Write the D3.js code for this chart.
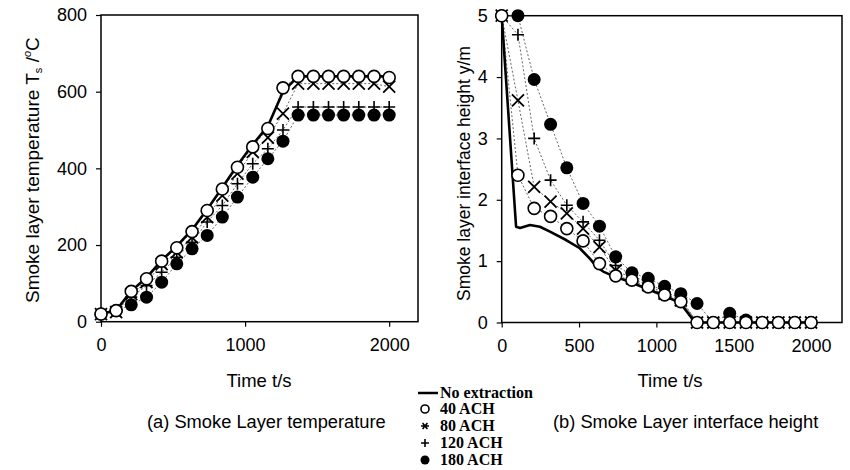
<!DOCTYPE html>
<html><head><meta charset="utf-8">
<script src="https://cdn.jsdelivr.net/npm/d3@7"></script>
<style>
body{margin:0;background:#fff;}
svg{display:block;}
text{font-family:"Liberation Sans",Arial,sans-serif;fill:#000;}
</style></head>
<body>
<svg id="c" width="850" height="470"></svg>
<script>
// ---- data ----
const times = [0,105,210,316,421,526,632,737,842,947,1053,1158,1263,1368,1474,1579,1684,1789,1895,2000];

// (a) smoke layer temperature, °C
const tempNoExt = [20,30,80,115,160,197,240,293,350,408,462,510,600,640,640,640,640,640,640,640];
const temp40  = [20,29,79,112,158,193,235,290,346,403,456,504,610,640,640,640,640,640,640,637];
const temp80  = [20,25,72,103,150,181,220,273,329,386,443,480,543,621,621,621,621,621,621,613];
const temp120 = [20,30,64,94,129,168,207,260,303,360,412,451,500,560,560,560,560,560,560,560];
const temp180 = [20,29,44,64,103,151,190,225,273,325,377,425,471,539,539,539,539,539,539,539];

// (b) smoke layer interface height, m
const noExtT = [0,93,118,183,247,312,419,505,570,613,656,720,830,938,1046,1154,1250,2000];
const noExtH = [5,1.56,1.54,1.59,1.56,1.48,1.34,1.21,1.04,0.91,0.83,0.76,0.66,0.55,0.44,0.32,0,0];
const h40  = [5,2.40,1.86,1.73,1.53,1.33,0.96,0.76,0.69,0.58,0.45,0.34,0,0,0,0,0,0,0,0];
const h80  = [5,3.62,2.21,1.97,1.78,1.53,1.23,0.85,0.72,0.61,0.47,0.36,0,0,0,0,0,0,0,0];
const h120 = [5,4.69,3.00,2.32,1.91,1.64,1.34,0.93,0.77,0.64,0.50,0.39,0,0,0,0,0,0,0,0];
const h180 = [5,5,3.96,3.23,2.52,1.94,1.57,1.07,0.81,0.72,0.59,0.47,0.31,0,0.15,0.04,0,0,0,0];

const tempTicks = [0,200,400,600,800];
const timeTicksA = [0,1000,2000];
const heightTicks = [0,1,2,3,4,5];
const timeTicksB = [0,500,1000,1500,2000];

const legendLabels = ["No extraction","40 ACH","80 ACH","120 ACH","180 ACH"];

// ---- drawing ----
const svg = d3.select("#c");

function marker(g, type, x, y, s) {
  if (type === "circle") {
    g.append("circle").attr("cx",x).attr("cy",y).attr("r",s)
      .attr("fill","#fff").attr("stroke","#000").attr("stroke-width",1.6);
  } else if (type === "dot") {
    g.append("circle").attr("cx",x).attr("cy",y).attr("r",s+0.5).attr("fill","#000");
  } else if (type === "x") {
    const d = s;
    g.append("path").attr("d",`M${x-d},${y-d}L${x+d},${y+d}M${x-d},${y+d}L${x+d},${y-d}`)
      .attr("stroke","#000").attr("stroke-width",1.8).attr("fill","none");
  } else if (type === "plus") {
    const d = s;
    g.append("path").attr("d",`M${x-d},${y}L${x+d},${y}M${x},${y-d}L${x},${y+d}`)
      .attr("stroke","#000").attr("stroke-width",1.6).attr("fill","none");
  } else if (type === "star") {
    const d = s;
    g.append("path").attr("d",`M${x-d},${y}L${x+d},${y}M${x-d*0.6},${y-d*0.75}L${x+d*0.6},${y+d*0.75}M${x-d*0.6},${y+d*0.75}L${x+d*0.6},${y-d*0.75}`)
      .attr("stroke","#000").attr("stroke-width",1.6).attr("fill","none");
  }
}

function panel(cfg) {
  const x = d3.scaleLinear().domain([0,2200]).range([cfg.x0, cfg.x1]);
  const y = d3.scaleLinear().domain([0,cfg.ymax]).range([cfg.y0, cfg.y1]);
  const g = svg.append("g");

  const ax = g.append("g").attr("transform",`translate(0,${cfg.y0})`)
    .call(d3.axisBottom(x).tickValues(cfg.xticks).tickSize(5).tickPadding(12).tickFormat(d3.format("d")));
  const ay = g.append("g").attr("transform",`translate(${cfg.x0},0)`)
    .call(d3.axisLeft(y).tickValues(cfg.yticks).tickSize(5).tickPadding(9).tickFormat(d3.format("d")));
  [ax, ay].forEach(a => {
    a.select(".domain").remove();
    a.selectAll(".tick line").attr("stroke","#000").attr("stroke-width",1.2);
    a.selectAll(".tick text").style("font-size","18px").style("font-family","'Liberation Sans',Arial,sans-serif").attr("fill","#000");
  });

  g.append("rect").attr("x",cfg.x0).attr("y",cfg.y1)
    .attr("width",cfg.x1-cfg.x0).attr("height",cfg.y0-cfg.y1)
    .attr("fill","none").attr("stroke","#000").attr("stroke-width",1.5);

  const line = d3.line().x(d=>x(d[0])).y(d=>y(d[1]));
  cfg.series.forEach(s => {
    g.append("path").attr("d", line(times.map((t,i)=>[t,s.v[i]])))
      .attr("fill","none").attr("stroke","#555").attr("stroke-width",0.9)
      .attr("stroke-dasharray","2,2");
  });
  g.append("path").attr("d", line(cfg.noExt))
    .attr("fill","none").attr("stroke","#000").attr("stroke-width",2.6)
    .attr("stroke-linejoin","round");

  cfg.series.forEach(s => {
    times.forEach((t,i) => marker(g, s.type, x(t), y(s.v[i]), 6));
  });

  g.append("text").attr("x",cfg.xTitleX).attr("y",387).attr("text-anchor","middle")
    .style("font-size","18.5px").text("Time t/s");
  g.append("text").attr("x",cfg.capX).attr("y",428).style("font-size","18.3px").text(cfg.caption);
  return g;
}

const gA = panel({
  x0:101, x1:418, y0:321.7, y1:15, ymax:800,
  xticks:timeTicksA, yticks:tempTicks,
  noExt: times.map((t,i)=>[t,tempNoExt[i]]),
  series:[
    {type:"dot", v:temp180},
    {type:"plus", v:temp120},
    {type:"x", v:temp80},
    {type:"circle", v:temp40}
  ],
  xTitleX:259, capX:147, caption:"(a) Smoke Layer temperature"
});
const tA = gA.append("text").attr("transform","translate(39,303) rotate(-90)")
  .attr("text-anchor","start").style("font-size","19px");
tA.append("tspan").text("Smoke layer temperature T");
tA.append("tspan").text("s").style("font-size","11px").attr("dy","3");
tA.append("tspan").text(" /").attr("dy","-3");
tA.append("tspan").text("o").style("font-size","11px").style("font-style","italic").attr("dy","-8");
tA.append("tspan").text("C").attr("dy","8");

const gB = panel({
  x0:501.7, x1:842, y0:322.5, y1:15.7, ymax:5,
  xticks:timeTicksB, yticks:heightTicks,
  noExt: noExtT.map((t,i)=>[t,noExtH[i]]),
  series:[
    {type:"dot", v:h180},
    {type:"plus", v:h120},
    {type:"x", v:h80},
    {type:"circle", v:h40}
  ],
  xTitleX:670, capX:553, caption:"(b) Smoke Layer interface height"
});
gB.append("text").attr("transform","translate(470,301) rotate(-90)")
  .attr("text-anchor","start").style("font-size","17.5px")
  .text("Smoke layer interface height y/m");

// legend
const lg = svg.append("g");
const lgTypes = ["line","circle","star","plus","dot"];
const lgY = [393,409,426,443,460];
legendLabels.forEach((lab,i) => {
  const cy = lgY[i];
  if (lgTypes[i] === "line") {
    lg.append("line").attr("x1",418).attr("x2",438).attr("y1",cy).attr("y2",cy)
      .attr("stroke","#000").attr("stroke-width",2.5);
  } else {
    marker(lg, lgTypes[i], 425, cy, 4);
  }
  lg.append("text").attr("x", 440).attr("y", cy+5)
    .style("font-family","'Liberation Serif','Times New Roman',serif")
    .style("font-weight","bold").style("font-size","16px").text(lab);
});
</script>
</body></html>
